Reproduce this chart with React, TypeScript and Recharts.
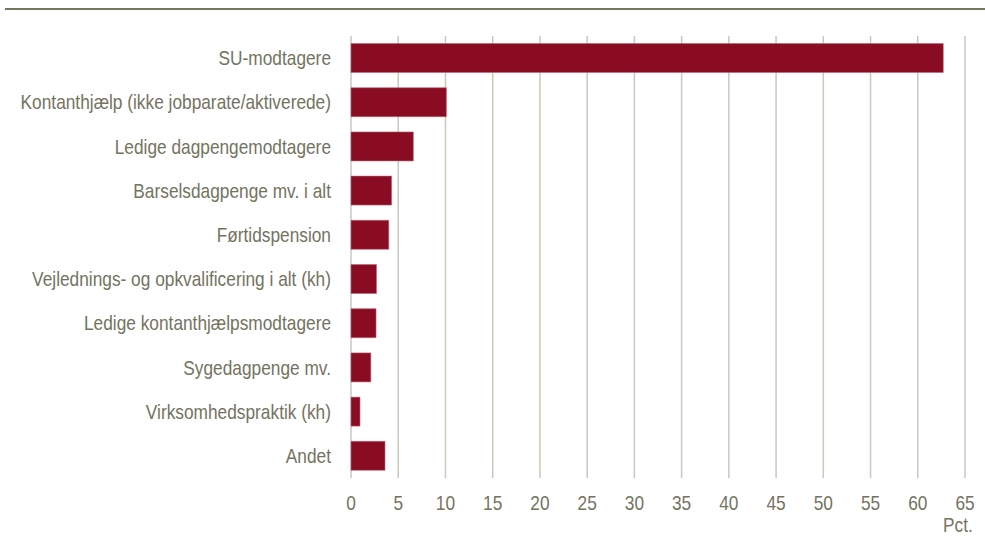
import React from 'react';
import { BarChart, Bar, XAxis, YAxis, CartesianGrid } from 'recharts';

const categories = [
  'SU-modtagere',
  'Kontanthjælp (ikke jobparate/aktiverede)',
  'Ledige dagpengemodtagere',
  'Barselsdagpenge mv. i alt',
  'Førtidspension',
  'Vejlednings- og opkvalificering i alt (kh)',
  'Ledige kontanthjælpsmodtagere',
  'Sygedagpenge mv.',
  'Virksomhedspraktik (kh)',
  'Andet',
];

const shares = [62.7, 10.1, 6.6, 4.3, 4.0, 2.7, 2.65, 2.1, 0.95, 3.6];

const xTicks = [0, 5, 10, 15, 20, 25, 30, 35, 40, 45, 50, 55, 60, 65];

const data = categories.map((name, i) => ({ name, value: shares[i] }));

const FONT = '"Liberation Sans", Arial, sans-serif';
const TEXT = '#74735f';
const SQUEEZE = 0.865;

// Arial Narrow is not installed, so squeeze Liberation Sans horizontally
const NarrowText = ({ x, y, anchor, children }: any) => (
  <text
    transform={`translate(${x},${y}) scale(${SQUEEZE},1)`}
    textAnchor={anchor}
    dy="0.355em"
    fill={TEXT}
    fontSize={20}
    fontFamily={FONT}
  >
    {children}
  </text>
);

const CategoryTick = ({ x, y, payload }: any) => (
  <NarrowText x={x} y={y} anchor="end">{payload.value}</NarrowText>
);

const ValueTick = ({ x, y, payload }: any) => (
  <NarrowText x={x} y={y + 5} anchor="middle">{payload.value}</NarrowText>
);

export default function App() {
  return (
    <div style={{ position: 'absolute', left: 0, top: 0, width: 985, height: 541, background: '#fff' }}>
      <div style={{ position: 'absolute', left: 5, top: 8, width: 980, height: 2, background: '#77745f' }} />
      <BarChart
        width={985}
        height={541}
        data={data}
        layout="vertical"
        barCategoryGap="17%"
        margin={{ top: 36, right: 20, left: 0, bottom: 0 }}
      >
        <CartesianGrid horizontal={false} stroke="#c9c8bb" strokeWidth={1.5} />
        <XAxis
          type="number"
          domain={[0, 65]}
          ticks={xTicks}
          interval={0}
          axisLine={false}
          tickLine={false}
          tickSize={0}
          tickMargin={20}
          height={63}
          tick={<ValueTick />}
        />
        <YAxis
          type="category"
          dataKey="name"
          width={351}
          axisLine={false}
          tickLine={false}
          tickSize={0}
          tickMargin={20}
          interval={0}
          tick={<CategoryTick />}
        />
        <Bar dataKey="value" fill="#8a0c23" stroke="#b56a78" strokeWidth={0.6} isAnimationActive={false} />
      </BarChart>
      <div
        style={{
          position: 'absolute',
          left: 943,
          top: 515,
          fontFamily: FONT,
          fontSize: 20,
          color: TEXT,
          transform: `scaleX(${SQUEEZE})`,
          transformOrigin: 'left top',
          lineHeight: '20px',
        }}
      >
        Pct.
      </div>
    </div>
  );
}
